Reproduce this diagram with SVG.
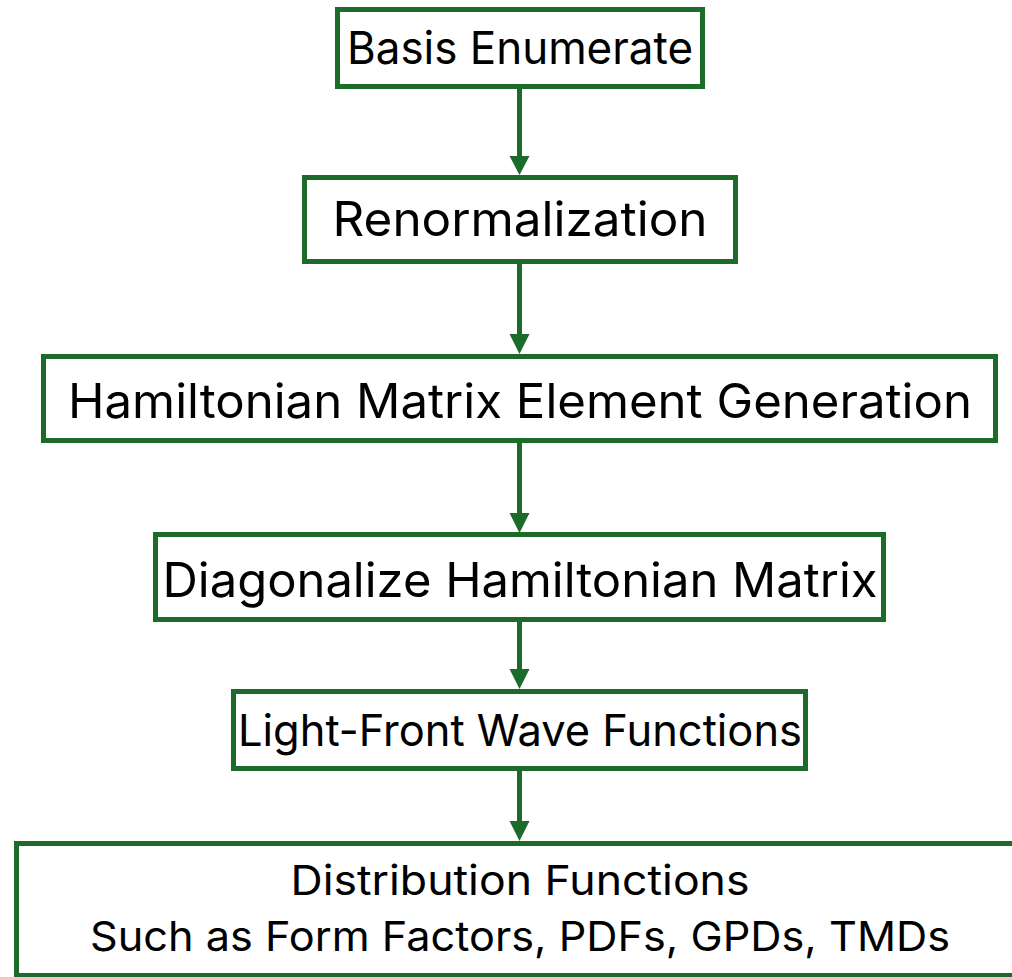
<svg xmlns="http://www.w3.org/2000/svg" width="1012" height="977" viewBox="0 0 1012 977">
<style>
.box{fill:#fff;stroke:#1d6b2b;stroke-width:5}
.t{font-family:Inter,"Open Sans","Liberation Sans",sans-serif;fill:#000;text-anchor:middle}
.c{stroke:#1d6b2b;stroke-width:5;fill:none}
.h{fill:#1d6b2b}
</style>
<rect width="1012" height="977" fill="#fff"/>
<g id="n1"><rect class="box" x="337.5" y="9.5" width="365" height="77"/><text class="t" x="520" y="64" font-size="45" textLength="346" lengthAdjust="spacingAndGlyphs">Basis Enumerate</text></g>
<g id="n2"><rect class="box" x="304.5" y="177.5" width="431" height="84"/><text class="t" x="520" y="236" font-size="48" textLength="375" lengthAdjust="spacingAndGlyphs">Renormalization</text></g>
<g id="n3"><rect class="box" x="43.5" y="356.5" width="952" height="84"/><text class="t" x="520" y="418" font-size="48" textLength="904" lengthAdjust="spacingAndGlyphs">Hamiltonian Matrix Element Generation</text></g>
<g id="n4"><rect class="box" x="155.5" y="534.5" width="728" height="85"/><text class="t" x="520" y="597" font-size="48" textLength="715" lengthAdjust="spacingAndGlyphs">Diagonalize Hamiltonian Matrix</text></g>
<g id="n5"><rect class="box" x="233.5" y="691.5" width="572" height="77"/><text class="t" x="520" y="746" font-size="44" textLength="564" lengthAdjust="spacingAndGlyphs">Light-Front Wave Functions</text></g>
<g id="n6"><rect class="box" x="16.5" y="843.5" width="1010" height="132"/><text class="t" x="520" y="895" font-size="41" textLength="459" lengthAdjust="spacingAndGlyphs">Distribution Functions</text><text class="t" x="520" y="951" font-size="41" textLength="860" lengthAdjust="spacingAndGlyphs">Such as Form Factors, PDFs, GPDs, TMDs</text></g>
<g id="connectors">
<path class="c" d="M519.5 89V158"/><path class="h" d="M509.5 156h20l-10 19z"/>
<path class="c" d="M519.5 264V336"/><path class="h" d="M509.5 334h20l-10 20z"/>
<path class="c" d="M519.5 443V515"/><path class="h" d="M509.5 513h20l-10 20z"/>
<path class="c" d="M519.5 622V671"/><path class="h" d="M509.5 669h20l-10 20z"/>
<path class="c" d="M519.5 771V823"/><path class="h" d="M509.5 821h20l-10 20z"/>
</g>
</svg>
